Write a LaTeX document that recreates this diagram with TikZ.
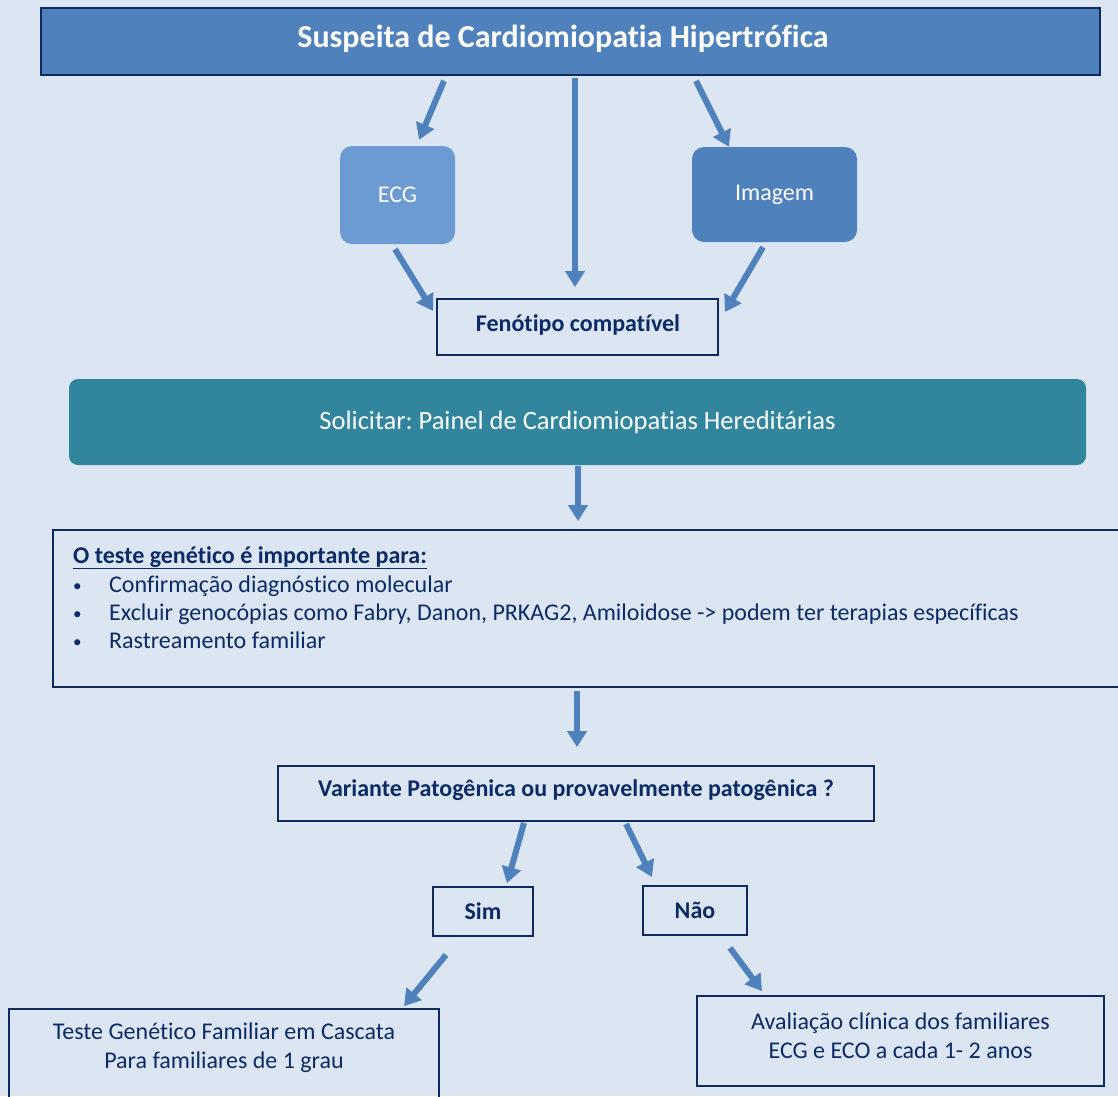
\documentclass[tikz,border=0pt]{standalone}
\usepackage{fontspec}
\setmainfont{Carlito}[RawFeature=-liga]
\usetikzlibrary{arrows.meta,calc}
\definecolor{bg}{HTML}{DCE6F2}
\definecolor{steel}{HTML}{4F81BD}
\definecolor{steellt}{HTML}{6C9AD2}
\definecolor{tealbox}{HTML}{31859C}
\definecolor{navy}{HTML}{0E2A5E}
\definecolor{ink}{HTML}{0C2B66}
\newcommand{\fsz}[1]{\frenchspacing\fontsize{#1}{1.2\dimexpr#1pt\relax}\selectfont}
\begin{document}
\begin{tikzpicture}[x=1pt,y=-1pt,
  frame/.style={draw=navy, line width=1.8pt, inner sep=0pt},
  txt/.style={text=ink, font=\fsz{24}, inner sep=0pt},
  btxt/.style={text=ink, font=\bfseries\fsz{24}, inner sep=0pt},
  arr/.style={draw=steel, line width=6pt, -{Triangle[width=19pt,length=16pt]}}]
\fill[bg] (0,0) rectangle (1118,1096);
\useasboundingbox (0,0) rectangle (1118,1096);
\clip (0,0) rectangle (1118,1096);

% header
\node[frame, fill=steel, minimum width=1059pt, minimum height=67pt] (hdr) at (570.5,41.5) {};
\node[text=white, font=\bfseries\fsz{32}, inner sep=0pt] (hdrt) at (563,39) {Suspeita de Cardiomiopatia Hipertrófica};

% exam boxes
\node[fill=steellt, rounded corners=12pt, minimum width=115pt, minimum height=98pt, text=white, font=\fsz{24}] (ecg) at (397.5,195) {ECG};
\node[fill=steel, rounded corners=12pt, minimum width=165pt, minimum height=95pt, text=white, font=\fsz{24}] (img) at (774.5,194.5) {Imagem};

% phenotype
\node[frame, minimum width=281pt, minimum height=56pt] (fen) at (577.5,327) {};
\node[btxt] (fent) at (578,325) {Fenótipo compatível};

% panel request
\node[fill=tealbox, rounded corners=9pt, minimum width=1017pt, minimum height=86pt, text=white, font=\fsz{26.5}] (pan) at (577.5,422) {Solicitar: Painel de Cardiomiopatias Hereditárias};

% reasons box
\node[frame, minimum width=1072pt, minimum height=157pt] (why) at (589,608.5) {};
\node[text=ink, font=\bfseries\fsz{24}, inner sep=0pt, anchor=base west] (wh) at (73,563) {\underline{O teste genético é importante para:}};
\foreach \y/\t [count=\i] in {592/{Confirmação diagnóstico molecular},
  620/{Excluir genocópias como Fabry, Danon, PRKAG2, Amiloidose -> podem ter terapias específicas},
  648/{Rastreamento familiar}}{
  \node[text=ink, font=\fsz{17}, inner sep=0pt, anchor=base west] (b\i) at (73,\y-1) {•};
  \node[text=ink, font=\fsz{24}, inner sep=0pt, anchor=base west] (l\i) at (109,\y) {\t};
}

% question
\node[frame, minimum width=596pt, minimum height=55pt] (var) at (576,793.5) {};
\node[btxt] (vart) at (576,790) {Variante Patogênica ou provavelmente patogênica ?};

\node[frame, minimum width=100pt, minimum height=49pt, btxt] (sim) at (483,911.5) {Sim};
\node[frame, minimum width=104pt, minimum height=49pt, btxt] (nao) at (695,910.5) {Não};

% outcomes
\node[frame, minimum width=430pt, minimum height=101pt] (cas) at (224,1059.5) {};
\node[txt, align=center] (cast) at (224,1047.5) {Teste Genético Familiar em Cascata\\Para familiares de 1 grau};
\node[frame, minimum width=407pt, minimum height=90pt] (aval) at (900.5,1041) {};
\node[txt, align=center] (avalt) at (900.5,1036) {Avaliação clínica dos familiares\\ECG e ECO a cada 1- 2 anos};

% connectors
\draw[arr] ($(hdr.south)+(-126.5,5)$) -- ($(ecg.north)+(21.5,-6)$);
\draw[arr] ($(hdr.south)+(4.5,2)$) -- ($(fen.north)+(-2.5,-11)$);
\draw[arr] ($(hdr.south)+(125.5,5)$) -- ($(img.north)+(-45.5,0)$);
\draw[arr] ($(ecg.south)+(-2.5,5)$) -- ($(fen.west)+(-3,-16)$);
\draw[arr] ($(img.south)+(-11.5,5)$) -- ($(fen.east)+(6,-15)$);
\draw[arr] ($(pan.south)+(0.5,1)$) -- ($(why.north)+(-11,-8)$);
\draw[arr] ($(why.south)+(-12,3)$) -- ($(var.north)+(1,-18)$);
\draw[arr] ($(var.south)+(-52,1)$) -- ($(sim.north)+(24,-3)$);
\draw[arr] ($(var.south)+(50,2)$) -- ($(nao.north)+(-43,-8)$);
\draw[arr] ($(sim.south)+(-37,18)$) -- ($(cas.north)+(180,-2)$);
\draw[arr] ($(nao.south)+(35,12)$) -- ($(aval.north)+(-138.5,-4)$);
\end{tikzpicture}
\end{document}
